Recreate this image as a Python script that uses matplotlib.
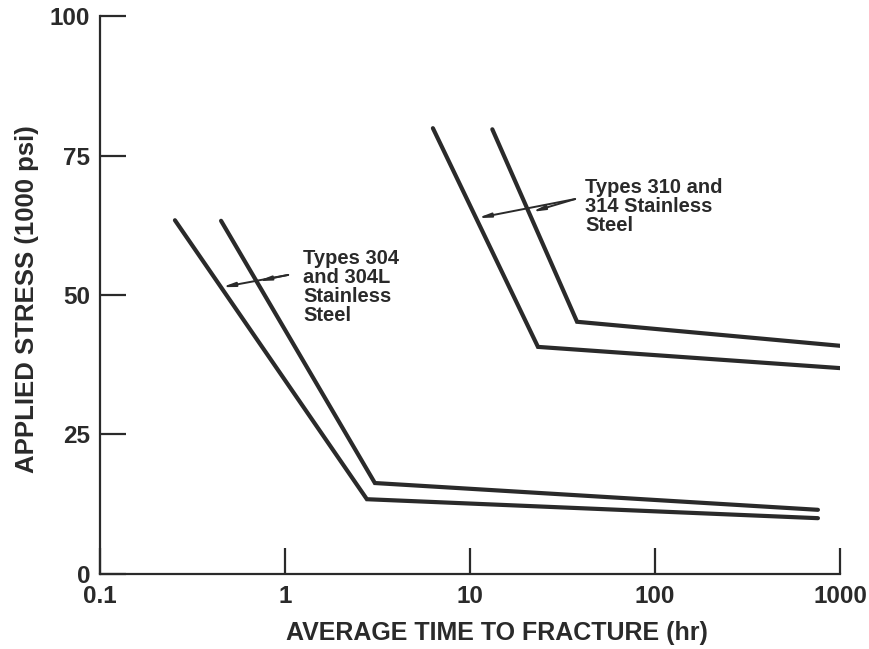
import matplotlib
matplotlib.use("Agg")
import matplotlib.pyplot as plt

plt.rcParams['font.family'] = ['Liberation Sans', 'DejaVu Sans']

# Data (time in hr, stress in 1000 psi)
t304_lower_x = [0.254, 2.77, 760]
t304_lower_y = [63.4, 13.4, 10.0]
t304_upper_x = [0.451, 3.06, 760]
t304_upper_y = [63.3, 16.3, 11.5]
t310_lower_x = [6.3, 23.3, 1000]
t310_lower_y = [79.9, 40.7, 36.9]
t310_upper_x = [13.2, 37.9, 1000]
t310_upper_y = [79.7, 45.2, 40.9]

x_ticks = [0.1, 1, 10, 100, 1000]
x_ticklabels = ["0.1", "1", "10", "100", "1000"]
y_ticks = [0, 25, 50, 75, 100]
y_ticklabels = ["0", "25", "50", "75", "100"]

label_304 = "Types 304\nand 304L\nStainless\nSteel"
label_310 = "Types 310 and\n314 Stainless\nSteel"

fig = plt.figure(figsize=(8.7, 6.49), dpi=100)
ax = fig.add_axes([0.115, 0.1156, 0.8505, 0.8597])

lc = "#2a2a2a"
for xs, ys in [(t304_lower_x, t304_lower_y), (t304_upper_x, t304_upper_y),
               (t310_lower_x, t310_lower_y), (t310_upper_x, t310_upper_y)]:
    ax.plot(xs, ys, color=lc, lw=3.0, solid_joinstyle='miter', solid_capstyle='round')

ax.set_xscale('log')
ax.set_xlim(0.1, 1000)
ax.set_ylim(0, 100)
ax.set_xticks(x_ticks)
ax.set_xticklabels(x_ticklabels)
ax.set_yticks(y_ticks)
ax.set_yticklabels(y_ticklabels)
ax.minorticks_off()

for s in ['top', 'right']:
    ax.spines[s].set_visible(False)
for s in ['left', 'bottom']:
    ax.spines[s].set_linewidth(1.6)
    ax.spines[s].set_color(lc)

ax.tick_params(axis='x', direction='in', length=19, width=1.6, color=lc, pad=8,
               labelsize=17.5, labelcolor=lc)
ax.tick_params(axis='y', direction='in', length=19, width=1.6, color=lc, pad=7,
               labelsize=17.5, labelcolor=lc)
for lab in ax.get_xticklabels() + ax.get_yticklabels():
    lab.set_fontweight('bold')

fig.text(0.571, 0.024, "AVERAGE TIME TO FRACTURE (hr)", ha='center', va='center',
         fontsize=18, fontweight='bold', color=lc)
fig.text(0.031, 0.539, "APPLIED STRESS (1000 psi)", ha='center', va='center',
         rotation=90, fontsize=18.5, fontweight='bold', color=lc)

ap = dict(arrowstyle='-|>,head_length=0.7,head_width=0.12', color=lc, lw=1.4,
          shrinkA=0, shrinkB=0)
# 304 arrows
ax.annotate("", xy=(0.456, 51.4), xytext=(1.04, 53.6), arrowprops=ap)
ax.annotate("", xy=(0.714, 52.5), xytext=(1.04, 53.6), arrowprops=ap)
# 310 arrows
ax.annotate("", xy=(11.0, 63.8), xytext=(37.0, 67.2), arrowprops=ap)
ax.annotate("", xy=(21.6, 64.9), xytext=(37.0, 67.2), arrowprops=ap)

ax.text(1.25, 58.3, label_304, ha='left', va='top', fontsize=14.5,
        fontweight='bold', color=lc, linespacing=1.0)
ax.text(41.9, 71.0, label_310, ha='left', va='top', fontsize=14.5,
        fontweight='bold', color=lc, linespacing=1.0)

fig.savefig("out.png", dpi=100)
